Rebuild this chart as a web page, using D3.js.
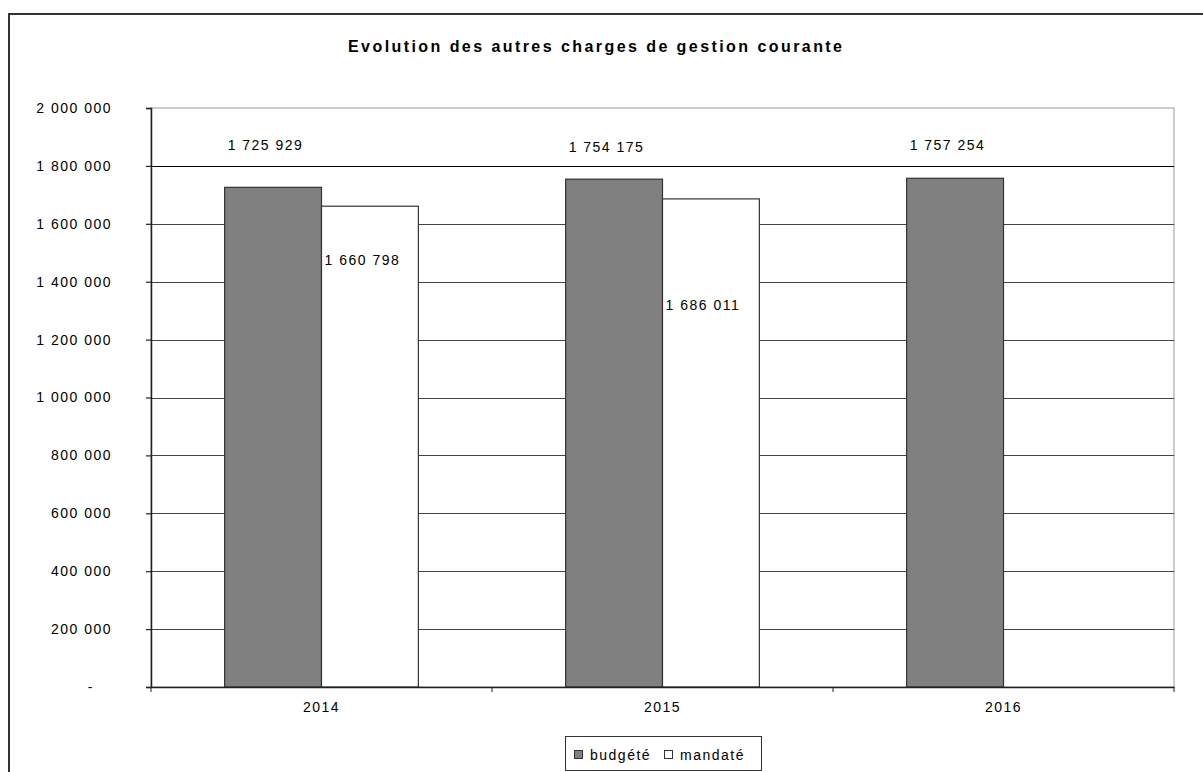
<!DOCTYPE html>
<html>
<head>
<meta charset="utf-8">
<script src="https://cdn.jsdelivr.net/npm/d3@7"></script>
<style>
  html, body { margin: 0; padding: 0; background: #fff; }
  svg text { font-family: "Liberation Sans", Arial, sans-serif; fill: #000; }
</style>
</head>
<body>
<div id="chart"></div>
<script>
// Chart data
const years = ["2014", "2015", "2016"];
const series = ["budgété", "mandaté"];
const budgete = [1725929, 1754175, 1757254];
const mandate = [1660798, 1686011, null];
const yTicks = [0, 200000, 400000, 600000, 800000, 1000000, 1200000, 1400000, 1600000, 1800000, 2000000];

const width = 1203, height = 772;
const plot = { left: 151, right: 1174, top: 108, bottom: 687 };
const labelSize = "14px", labelSpacing = "1.5px";

const svg = d3.select("#chart").append("svg")
    .attr("width", width)
    .attr("height", height);

// outer frame (runs past the window on right and bottom)
svg.append("rect")
    .attr("x", 9).attr("y", 14)
    .attr("width", 1300).attr("height", 900)
    .attr("fill", "#fff")
    .attr("stroke", "#333")
    .attr("stroke-width", 2);

// title
svg.append("text")
    .attr("x", 348).attr("y", 52)
    .attr("textLength", 494)
    .attr("lengthAdjust", "spacing")
    .style("font-size", "16px")
    .style("font-weight", "bold")
    .text("Evolution des autres charges de gestion courante");

const locale = d3.formatLocale({ decimal: ",", thousands: " ", grouping: [3], currency: ["", " €"] });
const fmt = locale.format(",");

const y = d3.scaleLinear()
    .domain([0, 2000000])
    .range([plot.bottom, plot.top]);

const x0 = d3.scaleBand()
    .domain(years)
    .range([plot.left, plot.right])
    .paddingInner(0)
    .paddingOuter(0);

const x1 = d3.scaleBand()
    .domain(series)
    .range([0, x0.bandwidth()])
    .paddingInner(0)
    .paddingOuter(0.76);

// plot area border
svg.append("rect")
    .attr("x", plot.left).attr("y", plot.top)
    .attr("width", plot.right - plot.left)
    .attr("height", plot.bottom - plot.top)
    .attr("fill", "none")
    .attr("stroke", "#999")
    .attr("stroke-width", 1);

// gridlines
svg.append("g")
    .selectAll("line")
    .data(yTicks.filter(d => d > 0 && d < 2000000))
    .enter().append("line")
    .attr("x1", plot.left).attr("x2", plot.right)
    .attr("y1", d => Math.round(y(d)) + 0.5)
    .attr("y2", d => Math.round(y(d)) + 0.5)
    .attr("stroke", d => d === 1800000 ? "#000" : "#444")
    .attr("stroke-width", 1.2);

// bars
const rows = years.map((yr, i) => ({ year: yr, values: [
    { key: "budgété", value: budgete[i] },
    { key: "mandaté", value: mandate[i] }
]}));

const group = svg.append("g")
    .selectAll("g")
    .data(rows)
    .enter().append("g")
    .attr("transform", d => `translate(${x0(d.year)},0)`);

group.selectAll("rect")
    .data(d => d.values.filter(v => v.value != null))
    .enter().append("rect")
    .attr("x", d => x1(d.key))
    .attr("y", d => y(d.value))
    .attr("width", x1.bandwidth())
    .attr("height", d => y(0) - y(d.value))
    .attr("fill", d => d.key === "budgété" ? "#808080" : "#fff")
    .attr("stroke", "#333")
    .attr("stroke-width", 1.2);

// y axis
const yAxis = svg.append("g")
    .attr("transform", `translate(${plot.left},0)`)
    .call(d3.axisLeft(y).tickValues(yTicks).tickSize(5).tickPadding(34)
        .tickFormat(d => d === 0 ? "-" : fmt(d)));
yAxis.select(".domain").attr("stroke", "#222").attr("stroke-width", 1.5);
yAxis.selectAll(".tick line").attr("stroke", "#222").attr("stroke-width", 1.2);
yAxis.selectAll(".tick text")
    .style("font-size", labelSize)
    .style("letter-spacing", labelSpacing)
    .style("font-family", "'Liberation Sans', Arial, sans-serif")
    .attr("fill", "#000")
    .attr("dx", d => d === 0 ? -18 : 0);

// x axis
const xAxis = svg.append("g")
    .attr("transform", `translate(0,${plot.bottom})`)
    .call(d3.axisBottom(x0).tickSize(0).tickPadding(15));
xAxis.select(".domain").attr("stroke", "#222").attr("stroke-width", 1.5);
xAxis.selectAll(".tick text")
    .style("font-size", labelSize)
    .style("letter-spacing", labelSpacing)
    .style("font-family", "'Liberation Sans', Arial, sans-serif")
    .attr("fill", "#000");
// category separator ticks
svg.append("g")
    .selectAll("line")
    .data(years.map(d => x0(d)).concat([plot.right]))
    .enter().append("line")
    .attr("x1", d => d).attr("x2", d => d)
    .attr("y1", plot.bottom).attr("y2", plot.bottom + 5)
    .attr("stroke", "#222");

// value labels (placed where the source chart had them dragged)
const budgetLabelY = [150, 152, 150];
const mandateLabelY = [265, 310, null];

svg.append("g")
    .selectAll("text")
    .data(budgete)
    .enter().append("text")
    .attr("x", (d, i) => x0(years[i]) + x1("budgété") + 3)
    .attr("y", (d, i) => budgetLabelY[i])
    .style("font-size", labelSize)
    .style("letter-spacing", labelSpacing)
    .text(d => fmt(d));

svg.append("g")
    .selectAll("text")
    .data(mandate.filter(d => d != null))
    .enter().append("text")
    .attr("x", (d, i) => x0(years[i]) + x1("mandaté") + 3)
    .attr("y", (d, i) => mandateLabelY[i])
    .style("font-size", labelSize)
    .style("letter-spacing", labelSpacing)
    .text(d => fmt(d));

// legend
const legend = svg.append("g");
legend.append("rect")
    .attr("x", 565.5).attr("y", 736.5)
    .attr("width", 196).attr("height", 34)
    .attr("fill", "#fff")
    .attr("stroke", "#333");
const legendItems = [
    { key: series[0], fill: "#808080", x: 574 },
    { key: series[1], fill: "#fff", x: 664 }
];
legendItems.forEach(it => {
    legend.append("rect")
        .attr("x", it.x + 0.5).attr("y", 750.5)
        .attr("width", 8).attr("height", 8)
        .attr("fill", it.fill)
        .attr("stroke", "#333");
    legend.append("text")
        .attr("x", it.x + 16).attr("y", 760)
        .style("font-size", labelSize)
        .style("letter-spacing", labelSpacing)
        .text(it.key);
});
</script>
</body>
</html>
